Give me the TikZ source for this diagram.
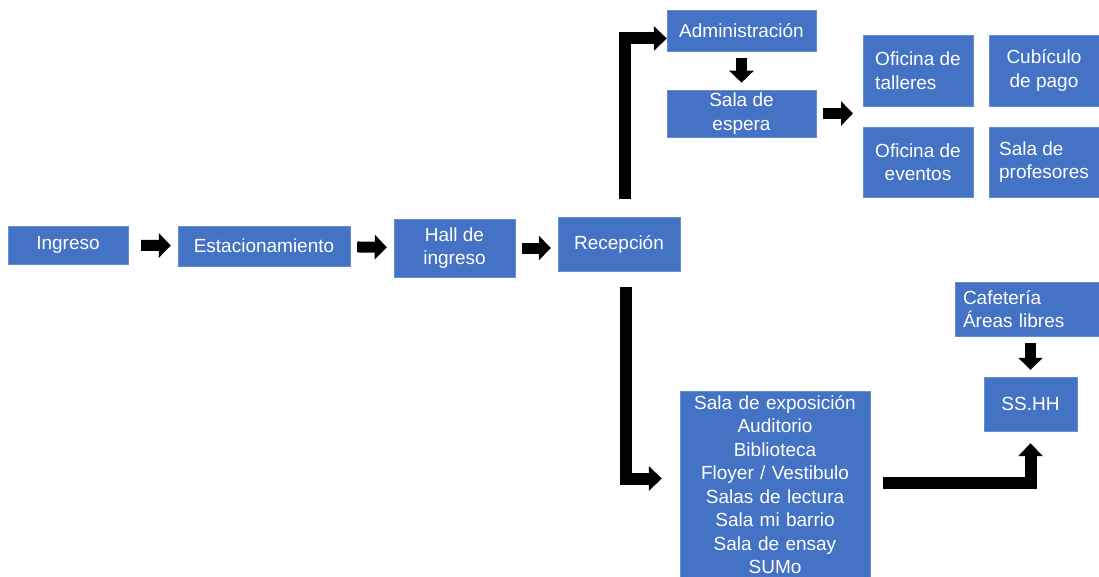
\documentclass[tikz,border=0pt]{standalone}
\usepackage{fontspec}
\setmainfont{Liberation Sans}
\usetikzlibrary{arrows.meta}
\definecolor{sala}{HTML}{4472C4}

\begin{document}
\begin{tikzpicture}[x=1pt,y=-1pt,
  caja/.style={fill=sala,draw=sala!80!white,text=white,font=\fontsize{19}{23.5}\selectfont,inner sep=3pt,align=center},
  flecha/.style={line width=11pt,-{Triangle[length=12pt,width=24pt]},shorten <=7pt,shorten >=7pt},
  codo/.style={line width=12pt,-{Triangle[length=13pt,width=24pt]}}]
  \useasboundingbox (0,0) rectangle (1099,577);

  % Main row
  \node[caja,minimum width=120pt,minimum height=38pt] (ingreso) at (68,245) {Ingreso};
  \node[caja,minimum width=172pt,minimum height=40pt] (estac) at (264,246) {Estacionamiento};
  \node[caja,minimum width=121pt,minimum height=58pt] (hall) at (454.5,248) {Hall de\\ingreso};
  \node[caja,minimum width=122pt,minimum height=54pt] (recep) at (619,244) {Recepción};

  \draw[flecha,shorten <=13pt] (ingreso) -- (estac);
  \draw[flecha] (estac) -- (hall);
  \draw[flecha] (hall.east) -- (hall.east -| recep.west);

  % Upper branch
  \node[caja,minimum width=149pt,minimum height=41pt] (admin) at (741.5,30.5) {Administración};
  \node[caja,minimum width=149pt,minimum height=41pt] (espera) at (741.5,113.5) {Sala de\\espera};
  \coordinate (grupo) at (860,113.5);

  \node[caja,align=left,minimum width=110pt,minimum height=71pt] (talleres) at (918,70.5) {Oficina de\\talleres};
  \node[caja,minimum width=110pt,minimum height=71pt] (cubiculo) at (1044,70.5) {Cubículo\\de pago};
  \node[caja,minimum width=110pt,minimum height=70pt] (eventos) at (918,162) {Oficina de\\eventos};
  \node[caja,align=left,minimum width=110pt,minimum height=70pt] (profes) at (1044,162) {Sala de\\profesores};

  \draw[codo,shorten <=18pt] ([xshift=6pt]recep.north) |- ([yshift=-8pt]admin.west);
  \draw[flecha] (admin) -- (espera);
  \draw[flecha] (espera.east) -- (grupo);

  % Lower branch
  \node[caja,anchor=north,text width=182pt,inner xsep=4pt,inner ysep=4pt] (lista) at (775,391)
    {Sala de exposición\\Auditorio\\Biblioteca\\Floyer / Vestibulo\\Salas de lectura\\Sala mi barrio\\Sala de ensay\\SUMo};
  \node[caja,align=left,text width=128pt,inner xsep=8pt,minimum height=54pt] (cafe) at (1027,309) {Cafetería\\Áreas libres};
  \node[caja,minimum width=93pt,minimum height=54pt] (sshh) at (1030.5,404) {SS.HH};

  \draw[codo,shorten <=16pt,shorten >=18pt] ([xshift=7pt]recep.south) |- ([yshift=-87.5pt]lista.north west);
  \draw[codo,shorten <=13pt,shorten >=12pt] ([yshift=-92pt]lista.north east) -| (sshh.south);
  \draw[flecha] (sshh |- cafe.south) -- (sshh.north);
\end{tikzpicture}
\end{document}
